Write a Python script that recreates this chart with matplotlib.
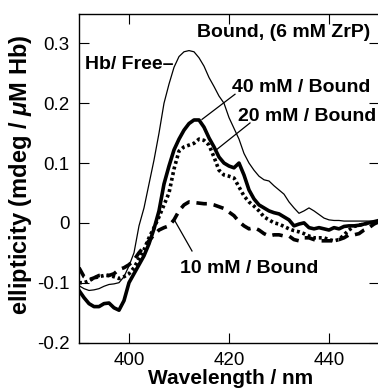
import numpy as np
import matplotlib
matplotlib.use("Agg")
import matplotlib.pyplot as plt

plt.rcParams['font.family'] = ['Liberation Sans', 'DejaVu Sans']
plt.rcParams['axes.unicode_minus'] = False
plt.rcParams['mathtext.fontset'] = 'custom'
plt.rcParams['mathtext.rm'] = 'Liberation Sans:bold'
plt.rcParams['mathtext.it'] = 'Liberation Sans:bold:italic'
plt.rcParams['mathtext.bf'] = 'Liberation Sans:bold'

# ---- data ----
wavelength = np.arange(390, 451, 1)

free_hb = [-0.105, -0.110, -0.113, -0.112, -0.110, -0.106, -0.103, -0.102, -0.100, -0.090,
           -0.072, -0.050, -0.005, 0.025, 0.065, 0.105, 0.150, 0.200, 0.232, 0.260,
           0.278, 0.286, 0.288, 0.286, 0.276, 0.262, 0.243, 0.228, 0.212, 0.200,
           0.176, 0.158, 0.140, 0.116, 0.100, 0.088, 0.078, 0.072, 0.070, 0.062,
           0.055, 0.048, 0.035, 0.025, 0.016, 0.020, 0.025, 0.020, 0.014, 0.008,
           0.005, 0.004, 0.004, 0.003, 0.003, 0.003, 0.003, 0.003, 0.003, 0.003,
           0.004]

bound_40mM = [-0.113, -0.125, -0.135, -0.140, -0.140, -0.135, -0.134, -0.142, -0.146, -0.130,
              -0.100, -0.085, -0.070, -0.055, -0.035, -0.010, 0.020, 0.065, 0.095, 0.122,
              0.140, 0.155, 0.166, 0.172, 0.172, 0.160, 0.142, 0.127, 0.110, 0.100,
              0.095, 0.092, 0.100, 0.080, 0.055, 0.040, 0.030, 0.025, 0.020, 0.017,
              0.015, 0.010, 0.005, -0.005, -0.002, 0.000, -0.008, -0.010, -0.008, -0.010,
              -0.012, -0.008, -0.010, -0.006, -0.005, -0.005, -0.004, -0.002, 0.000, 0.002,
              0.004]

bound_20mM = [-0.100, -0.100, -0.097, -0.092, -0.090, -0.088, -0.088, -0.090, -0.093, -0.090,
              -0.085, -0.075, -0.060, -0.045, -0.025, -0.008, 0.010, 0.030, 0.050, 0.090,
              0.120, 0.127, 0.130, 0.133, 0.140, 0.138, 0.130, 0.110, 0.088, 0.080,
              0.078, 0.075, 0.060, 0.045, 0.035, 0.028, 0.020, 0.010, 0.005, 0.000,
              -0.002, -0.006, -0.010, -0.013, -0.015, -0.018, -0.022, -0.025, -0.025, -0.025,
              -0.028, -0.030, -0.028, -0.020, -0.012, -0.006, -0.004, -0.002, 0.000, 0.000,
              0.002]

bound_10mM = [-0.075, -0.090, -0.095, -0.092, -0.088, -0.087, -0.088, -0.085, -0.078, -0.075,
              -0.070, -0.062, -0.050, -0.040, -0.030, -0.020, -0.012, -0.008, -0.005, 0.005,
              0.020, 0.030, 0.035, 0.034, 0.033, 0.032, 0.032, 0.030, 0.027, 0.024,
              0.018, 0.012, 0.002, -0.005, -0.010, -0.008, -0.012, -0.018, -0.022, -0.020,
              -0.020, -0.022, -0.022, -0.028, -0.030, -0.025, -0.025, -0.028, -0.030, -0.030,
              -0.030, -0.030, -0.028, -0.025, -0.020, -0.020, -0.018, -0.012, -0.008, -0.002,
              0.002]

xticks = [400, 420, 440]
yticks = [0.3, 0.2, 0.1, 0.0, -0.1, -0.2]
ytick_labels = ["0.3", "0.2", "0.1", "0", "-0.1", "-0.2"]

# ---- figure ----
W, H = 378, 389
fig = plt.figure(figsize=(W / 100, H / 100), dpi=100)
left_px, right_px, top_px, bot_px = 79, 379, 13.5, 342.5
ax = fig.add_axes([left_px / W, (H - bot_px) / H, (right_px - left_px) / W, (bot_px - top_px) / H])

ax.plot(wavelength, free_hb, color='black', lw=0.9)
ax.plot(wavelength, bound_40mM, color='black', lw=2.6, solid_joinstyle='round')
ax.plot(wavelength, bound_20mM, color='black', lw=2.6, linestyle=(0, (0.8, 0.8)))
ax.plot(wavelength, bound_10mM, color='black', lw=2.6, linestyle=(0, (2.9, 1.9)))

ax.set_xlim(390, 450)
ax.set_ylim(-0.2, 0.35)
ax.set_xticks(xticks)
ax.set_yticks(yticks)
ax.set_yticklabels(ytick_labels)
ax.tick_params(direction='in', length=7.2, width=0.8, labelsize=13.5,
               top=True, right=True, pad=7)
for s in ax.spines.values():
    s.set_linewidth(1.0)

tkw = dict(fontsize=14, fontweight='bold', color='black', va='baseline', ha='left')
ax.text(391.2, 0.257, "Hb/ Free–", **tkw)
ax.text(413.6, 0.310, "Bound, (6 mM ZrP)", **tkw)
ax.text(420.6, 0.218, "40 mM / Bound", **tkw)
ax.text(421.8, 0.170, "20 mM / Bound", **tkw)
ax.text(410.2, -0.083, "10 mM / Bound", **tkw)

ax.plot([421.2, 414.6], [0.215, 0.173], color='black', lw=0.9)
ax.plot([424.2, 417.6], [0.167, 0.123], color='black', lw=0.9)
ax.plot([412.6, 409.2], [-0.047, 0.003], color='black', lw=0.9)

ax.text(0.505, -0.125, "Wavelength / nm", transform=ax.transAxes,
        fontsize=15, fontweight='bold', ha='center', va='baseline')
ax.text(-0.196, 0.51, r"ellipticity (mdeg / $\mu$M Hb)", transform=ax.transAxes,
        fontsize=17, fontweight='bold', ha='center', va='center', rotation=90)

fig.savefig("out.png", dpi=100)
